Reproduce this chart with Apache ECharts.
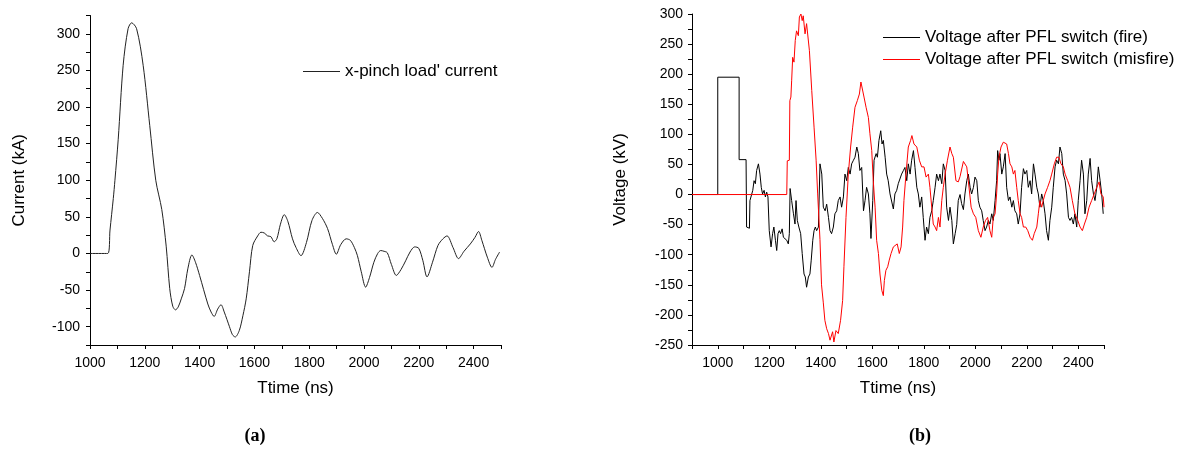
<!DOCTYPE html>
<html>
<head>
<meta charset="utf-8">
<title>x-pinch current and PFL voltage</title>
<script src="https://cdn.jsdelivr.net/npm/echarts@6/dist/echarts.min.js"></script>
<style>
  html, body { margin: 0; padding: 0; background: #fff; }
  #chart { width: 1182px; height: 450px; }
</style>
</head>
<body>
<div id="chart"></div>
<script>
// (a) x-pinch load current, time in ns, current in kA
const loadTime = [1000, 1065, 1073, 1085, 1091, 1103, 1121, 1139, 1152, 1170, 1194, 1218, 1240, 1262, 1278, 1291, 1302, 1312, 1322, 1333, 1345, 1357, 1372, 1385, 1400, 1430, 1442, 1453, 1466, 1478, 1490, 1509, 1520, 1530, 1545, 1558, 1570, 1582, 1594, 1612, 1624, 1636, 1648, 1660, 1672, 1682, 1695, 1709, 1722, 1739, 1752, 1770, 1790, 1810, 1830, 1848, 1867, 1885, 1899, 1915, 1935, 1950, 1965, 1976, 1990, 2006, 2020, 2036, 2050, 2061, 2073, 2085, 2100, 2118, 2135, 2152, 2168, 2185, 2200, 2215, 2230, 2250, 2270, 2288, 2303, 2325, 2345, 2365, 2388, 2405, 2418, 2430, 2450, 2467, 2480, 2495]
const loadCurrent = [0, 0, 32, 75, 100, 156, 257, 307, 315, 307, 257, 175, 100, 60, 10, -48, -72, -77, -73, -62, -48, -21, -2, -12, -30, -69, -80, -86, -76, -70, -80, -100, -111, -114, -105, -85, -62, -25, 11, 24, 29, 28, 24, 23, 16, 20, 40, 53, 44, 20, 8, -3, 15, 45, 56, 48, 34, 12, -1, 12, 20, 18, 8, -3, -25, -46, -33, -12, 0, 4, 3, 1, -15, -30, -22, -10, 2, 9, 7, -10, -32, -12, 11, 20, 24, 8, -7, 3, 13, 22, 30, 18, -5, -19, -8, 2]

// (b) voltage after PFL switch, time in ns, voltage in kV
const fireTime = [900, 1000, 1000, 1083, 1083, 1110, 1112, 1123, 1125, 1132, 1136, 1141, 1146, 1151, 1158, 1164, 1169, 1174, 1180, 1185, 1190, 1195, 1200, 1207, 1213, 1218, 1224, 1229, 1234, 1239, 1244, 1250, 1255, 1261, 1268, 1274, 1278, 1281, 1287, 1294, 1300, 1304, 1309, 1315, 1322, 1328, 1335, 1340, 1345, 1352, 1358, 1363, 1369, 1374, 1379, 1384, 1391, 1397, 1404, 1410, 1417, 1423, 1430, 1436, 1442, 1449, 1455, 1462, 1468, 1475, 1481, 1488, 1494, 1501, 1507, 1514, 1520, 1527, 1533, 1540, 1546, 1552, 1559, 1566, 1572, 1578, 1585, 1591, 1595, 1602, 1607, 1615, 1620, 1626, 1633, 1638, 1643, 1650, 1656, 1662, 1669, 1675, 1682, 1688, 1695, 1701, 1708, 1714, 1721, 1727, 1734, 1740, 1747, 1753, 1760, 1766, 1773, 1779, 1785, 1792, 1798, 1805, 1811, 1818, 1824, 1831, 1837, 1844, 1850, 1857, 1863, 1870, 1876, 1883, 1889, 1896, 1902, 1909, 1915, 1922, 1928, 1934, 1941, 1947, 1954, 1960, 1967, 1973, 1980, 1986, 1993, 1999, 2006, 2012, 2018, 2025, 2031, 2038, 2044, 2051, 2057, 2064, 2070, 2077, 2083, 2087, 2092, 2096, 2103, 2109, 2116, 2122, 2129, 2135, 2142, 2148, 2154, 2161, 2167, 2174, 2180, 2187, 2193, 2200, 2206, 2213, 2219, 2226, 2232, 2239, 2245, 2251, 2258, 2264, 2271, 2277, 2284, 2290, 2297, 2303, 2310, 2316, 2323, 2329, 2336, 2342, 2349, 2355, 2362, 2368, 2374, 2381, 2387, 2394, 2400, 2407, 2413, 2420, 2426, 2433, 2439, 2446, 2452, 2459, 2465, 2472, 2478, 2485, 2491, 2497]
const fireVolt = [0, 0, 195, 195, 58, 58, -54, -56, -10, -10, 7, 23, 18, 40, 51, 34, 12, 1, 7, -4, 4, -4, -60, -87, -65, -54, -76, -93, -65, -60, -65, -57, -71, -68, -76, -82, -65, 10, -10, -32, -49, -10, -43, -54, -65, -98, -132, -137, -154, -137, -132, -109, -76, -60, -54, -60, -54, 51, 34, -21, -27, -16, -38, -60, -65, -54, -32, -27, -10, -4, -21, -4, 34, 23, 45, 34, 51, 57, 62, 79, 68, 40, 45, -27, -10, 12, 1, -32, -73, -10, 57, 68, 62, 90, 106, 84, 90, 62, 34, 23, 1, 1, -24, 1, 7, 18, 18, 34, 40, 45, 23, 51, 34, 57, 73, 45, 12, 1, -21, -4, -38, -76, -54, -65, -38, -27, -10, 12, 34, 23, 34, 18, 51, 40, -21, -43, -21, -43, -82, -65, -50, -10, 0, -15, -25, 1, 23, 34, 12, 1, 12, 29, 23, -10, -21, -27, -43, -60, -54, -43, -49, -32, -43, -10, 23, 73, 57, 68, 34, 46, 68, 12, -10, -4, -21, -10, -27, -32, -49, -32, 12, 43, 34, 40, 12, 23, 1, 51, 34, 12, 1, -21, 1, -10, -32, -60, -76, -43, -21, 12, 46, 57, 51, 79, 68, 34, 23, 1, -38, -43, -38, -49, -32, -54, -10, 23, 57, 34, -32, -10, 34, 60, 23, 1, -10, 12, 46, 23, 1, -32]
const misfireTime = [900, 1268, 1270, 1278, 1280, 1284, 1287, 1291, 1296, 1301, 1306, 1313, 1317, 1323, 1328, 1332, 1339, 1345, 1356, 1365, 1374, 1382, 1388, 1397, 1403, 1410, 1416, 1423, 1430, 1436, 1446, 1451, 1459, 1468, 1477, 1485, 1490, 1498, 1507, 1516, 1524, 1533, 1542, 1550, 1556, 1563, 1568, 1576, 1585, 1591, 1598, 1604, 1611, 1617, 1624, 1630, 1637, 1643, 1647, 1653, 1660, 1666, 1673, 1682, 1688, 1697, 1705, 1712, 1718, 1723, 1731, 1740, 1749, 1754, 1762, 1773, 1783, 1792, 1801, 1809, 1818, 1824, 1831, 1837, 1844, 1850, 1857, 1863, 1870, 1876, 1883, 1892, 1902, 1909, 1915, 1925, 1934, 1941, 1954, 1967, 1973, 1984, 1993, 2002, 2012, 2022, 2031, 2040, 2048, 2057, 2064, 2070, 2077, 2083, 2087, 2092, 2100, 2109, 2116, 2122, 2129, 2135, 2142, 2148, 2154, 2161, 2167, 2174, 2180, 2187, 2196, 2204, 2213, 2222, 2229, 2239, 2245, 2251, 2258, 2264, 2271, 2281, 2290, 2297, 2307, 2316, 2325, 2333, 2342, 2349, 2359, 2368, 2377, 2387, 2398, 2407, 2416, 2424, 2433, 2442, 2452, 2462, 2472, 2481, 2488, 2497, 2500]
const misfireVolt = [0, 0, 56, 57, 156, 162, 189, 228, 220, 256, 272, 264, 295, 300, 289, 297, 267, 284, 239, 173, 112, 57, 1, -75, -150, -180, -209, -223, -231, -242, -228, -245, -226, -231, -209, -176, -120, -38, 34, 79, 112, 145, 156, 167, 187, 184, 162, 145, 128, 101, 73, 23, -21, -76, -98, -132, -159, -168, -143, -126, -120, -109, -98, -87, -84, -82, -98, -87, -54, -10, 34, 79, 90, 98, 84, 79, 57, 46, 46, 29, 34, 12, -21, -49, -54, -60, -38, -54, -10, 12, 34, 57, 79, 68, 62, 23, 21, 30, 55, 46, 23, -21, -32, -38, -60, -71, -54, -43, -38, -60, -71, -38, -32, 1, 34, 62, 79, 87, 90, 84, 68, 51, 46, 34, 40, 12, -10, -32, -38, -54, -54, -60, -71, -76, -65, -54, -32, -10, -21, -10, 1, 12, 23, 34, 51, 62, 62, 51, 46, 34, 23, 12, -10, -32, -43, -54, -60, -49, -38, -21, -10, 1, 12, 21, 1, -4, -21]

const FONT = "'Liberation Sans', Arial, sans-serif"
const myChart = echarts.init(document.getElementById('chart'))

// ticks every 25 / 100, labels only on every second one
const everyOther = step => v => (Math.round(v) % step === 0 ? String(Math.round(v)) : '')

const axisCommon = {
  axisLine: { show: true, onZero: false, lineStyle: { color: '#000', width: 1 } },
  axisTick: { show: true, inside: false, length: 4, lineStyle: { color: '#000', width: 1 } },
  splitLine: { show: false },
  nameTextStyle: { color: '#000', fontFamily: FONT, fontSize: 17 }
}

const option = {
  animation: false,
  backgroundColor: '#fff',
  grid: [
    { left: 90, top: 15.5, width: 411, height: 329.5 },
    { left: 692, top: 14, width: 412, height: 331 }
  ],
  xAxis: [
    {
      ...axisCommon,
      gridIndex: 0, type: 'value', min: 1000, max: 2500, interval: 100,
      name: 'Ttime (ns)', nameLocation: 'middle', nameGap: 35,
      axisLabel: { color: '#000', fontFamily: FONT, fontSize: 14, margin: 11, formatter: everyOther(200) }
    },
    {
      ...axisCommon,
      gridIndex: 1, type: 'value', min: 900, max: 2500, interval: 100,
      name: 'Ttime (ns)', nameLocation: 'middle', nameGap: 35,
      axisLabel: { color: '#000', fontFamily: FONT, fontSize: 14, margin: 11, formatter: everyOther(200) }
    }
  ],
  yAxis: [
    {
      ...axisCommon,
      gridIndex: 0, type: 'value', min: -125, max: 325, interval: 25,
      name: 'Current (kA)', nameLocation: 'middle', nameGap: 62, nameRotate: 90,
      axisLabel: { color: '#000', fontFamily: FONT, fontSize: 14, margin: 10, formatter: everyOther(50) }
    },
    {
      ...axisCommon,
      gridIndex: 1, type: 'value', min: -250, max: 300, interval: 25,
      name: 'Voltage (kV)', nameLocation: 'middle', nameGap: 63, nameRotate: 90,
      axisLabel: { color: '#000', fontFamily: FONT, fontSize: 14, margin: 9, formatter: everyOther(50) }
    }
  ],
  legend: [
    {
      data: ["x-pinch load' current"],
      left: 298, top: 58,
      icon: 'rect', itemWidth: 37, itemHeight: 1,
      textStyle: { color: '#000', fontFamily: FONT, fontSize: 17 }
    },
    {
      data: ['Voltage after PFL switch (fire)', 'Voltage after PFL switch (misfire)'],
      left: 878, top: 23, orient: 'vertical', itemGap: 3,
      icon: 'rect', itemWidth: 37, itemHeight: 1,
      textStyle: { color: '#000', fontFamily: FONT, fontSize: 17, lineHeight: 19 }
    }
  ],
  graphic: [
    { type: 'text', x: 255, y: 436, style: { text: '(a)', fill: '#000', font: "bold 18px 'Liberation Serif', 'Times New Roman', serif", textAlign: 'center', textVerticalAlign: 'middle' } },
    { type: 'text', x: 920, y: 436, style: { text: '(b)', fill: '#000', font: "bold 18px 'Liberation Serif', 'Times New Roman', serif", textAlign: 'center', textVerticalAlign: 'middle' } }
  ],
  series: [
    {
      name: "x-pinch load' current", type: 'line', xAxisIndex: 0, yAxisIndex: 0,
      data: loadTime.map((t, i) => [t, loadCurrent[i]]),
      smooth: 0.3, symbol: 'none',
      lineStyle: { color: '#222', width: 1 }, itemStyle: { color: '#222' }
    },
    {
      name: 'Voltage after PFL switch (fire)', type: 'line', xAxisIndex: 1, yAxisIndex: 1,
      data: fireTime.map((t, i) => [t, fireVolt[i]]),
      symbol: 'none',
      lineStyle: { color: '#000', width: 1 }, itemStyle: { color: '#000' }
    },
    {
      name: 'Voltage after PFL switch (misfire)', type: 'line', xAxisIndex: 1, yAxisIndex: 1,
      data: misfireTime.map((t, i) => [t, misfireVolt[i]]),
      symbol: 'none',
      lineStyle: { color: '#ff0000', width: 1 }, itemStyle: { color: '#ff0000' }
    }
  ]
}

myChart.setOption(option)
</script>
</body>
</html>
